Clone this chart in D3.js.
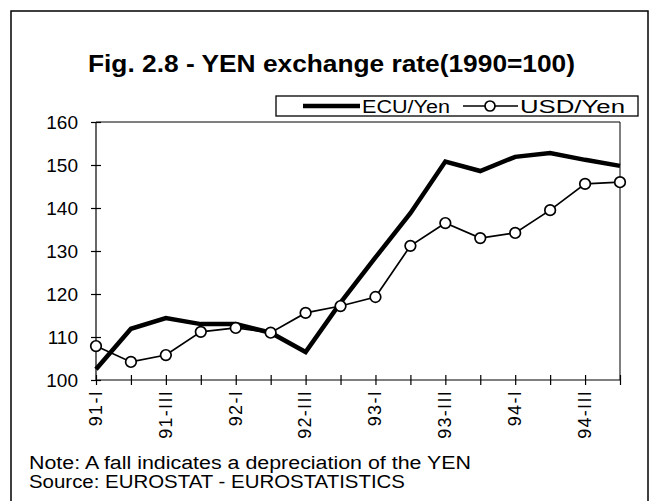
<!DOCTYPE html>
<html><head><meta charset="utf-8">
<script src="https://cdn.jsdelivr.net/npm/d3@7"></script>
<style>body{margin:0;background:#fff}svg{display:block}text{font-family:"Liberation Sans",Arial,sans-serif;fill:#000}</style>
</head><body><svg id="c" width="650" height="501"></svg>
<script>
const quarters = ["91-I","91-II","91-III","91-IV","92-I","92-II","92-III","92-IV","93-I","93-II","93-III","93-IV","94-I","94-II","94-III","94-IV"];
const tickLabels = ["91-I","91-III","92-I","92-III","93-I","93-III","94-I","94-III"];
const ecuYen = [102.5,111.9,114.4,113,113,111,106.5,118,128.5,138.8,150.8,148.6,151.9,152.8,151.2,149.8];
const usdYen = [107.9,104.2,105.8,111.2,112.1,111,115.6,117.2,119.3,131.2,136.5,133,134.2,139.5,145.6,146];
const yTicks = [100,110,120,130,140,150,160];
const title = "Fig. 2.8 - YEN exchange rate(1990=100)";
const seriesNames = ["ECU/Yen","USD/Yen"];
const notes = ["Note: A fall indicates a depreciation of the YEN","Source: EUROSTAT - EUROSTATISTICS"];

const FONT = "Liberation Sans, Arial, sans-serif";
const svg = d3.select("#c");
// outer frame
svg.append("path").attr("d","M11,520V11H648V520").attr("fill","none").attr("stroke","#000").attr("stroke-width",1.5);

svg.append("text").attr("x",88).attr("y",72)
  .attr("font-weight","bold").attr("font-size",24).attr("textLength",487).attr("lengthAdjust","spacingAndGlyphs").text(title);

const x = d3.scalePoint().domain(quarters).range([96,620]);
const y = d3.scaleLinear().domain([100,160]).range([380,122]);

const g = svg.append("g");
// plot frame top/right
g.append("path").attr("d",`M${x.range()[0]},${y(160)}H${x.range()[1]}V${y(100)}`).attr("fill","none").attr("stroke","#000").attr("stroke-width",1);

const ya = g.append("g").attr("transform",`translate(${x.range()[0]},0)`)
  .call(d3.axisLeft(y).tickValues(yTicks).tickSize(5).tickPadding(13).tickFormat(d3.format("d")));
ya.selectAll(".tick line").attr("x2",-5).attr("x1",5);
ya.select(".domain").attr("d",`M0,${y(160)}V${y(100)}`);
ya.selectAll("text").attr("font-size",19).attr("font-family",FONT);

const xa = g.append("g").attr("transform",`translate(0,${y(100)})`)
  .call(d3.axisBottom(x).tickSize(5).tickFormat(d=>tickLabels.includes(d)?d:""));
xa.selectAll(".tick line").attr("y1",-5).attr("y2",5);
xa.select(".domain").attr("d",`M${x.range()[0]},0H${x.range()[1]}`);
xa.selectAll(".tick text").attr("font-size",18).attr("font-family",FONT).attr("letter-spacing",1.3)
  .attr("transform","rotate(-90)").attr("text-anchor","end").attr("x",-10).attr("y",-1).attr("dy","0.35em");
svg.selectAll(".domain, .tick line").attr("stroke","#000").attr("stroke-width",1.2);

const line = d3.line().x((d,i)=>x(quarters[i])).y(d=>y(d));
g.append("path").datum(ecuYen).attr("d",line).attr("fill","none").attr("stroke","#000").attr("stroke-width",4.5).attr("stroke-linejoin","miter");
g.append("path").datum(usdYen).attr("d",line).attr("fill","none").attr("stroke","#000").attr("stroke-width",1.7);
g.selectAll("circle.u").data(usdYen).join("circle").attr("cx",(d,i)=>x(quarters[i])).attr("cy",d=>y(d)).attr("r",5.3)
  .attr("fill","#fff").attr("stroke","#000").attr("stroke-width",1.7);

// legend
const lg = svg.append("g");
lg.append("rect").attr("x",276).attr("y",96).attr("width",362).attr("height",20).attr("fill","#fff").attr("stroke","#000").attr("stroke-width",1.3);
lg.append("line").attr("x1",303).attr("x2",360).attr("y1",106).attr("y2",106).attr("stroke","#000").attr("stroke-width",4.5);
lg.append("text").attr("x",362).attr("y",113).attr("font-size",18).attr("textLength",88).attr("lengthAdjust","spacingAndGlyphs").text(seriesNames[0]);
lg.append("line").attr("x1",463).attr("x2",518).attr("y1",106).attr("y2",106).attr("stroke","#000").attr("stroke-width",1.7);
lg.append("circle").attr("cx",490).attr("cy",106).attr("r",5).attr("fill","#fff").attr("stroke","#000").attr("stroke-width",1.7);
lg.append("text").attr("x",520).attr("y",113).attr("font-size",18).attr("textLength",105).attr("lengthAdjust","spacingAndGlyphs").text(seriesNames[1]);

const noteLen = [442,376];
svg.selectAll("text.n").data(notes).join("text").attr("class","n").attr("x",29).attr("y",(d,i)=>469+i*19)
  .attr("font-size",18).attr("textLength",(d,i)=>noteLen[i]).attr("lengthAdjust","spacingAndGlyphs").text(d=>d);
</script></body></html>
